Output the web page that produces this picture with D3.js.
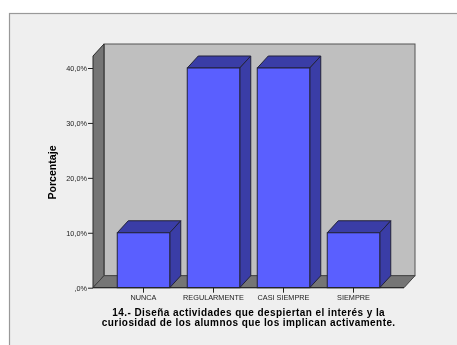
<!DOCTYPE html>
<html><head><meta charset="utf-8">
<script src="https://cdn.jsdelivr.net/npm/d3@7/dist/d3.min.js"></script>
<style>html,body{margin:0;padding:0;background:#fff}svg{display:block;filter:blur(.35px)}text{font-family:"Liberation Sans",Arial,sans-serif}</style>
</head><body><svg id="c" width="457" height="345"></svg>
<script>
const categories = ["NUNCA","REGULARMENTE","CASI SIEMPRE","SIEMPRE"];
const values = [10,40,40,10];
const yTicks = [0,10,20,30,40];
const yTickLabels = [",0%","10,0%","20,0%","30,0%","40,0%"];
const yTitle = "Porcentaje";
const titleLines = ["14.- Diseña actividades que despiertan el interés y la","curiosidad de los alumnos que los implican activamente."];

const svg = d3.select("#c");
const W=457,H=345, dx=11, dy=-12;
const x0=93, x1=404, yBase=287.7, yTop=56;
const y = d3.scaleLinear().domain([0,40]).range([yBase,68]);
const x = d3.scaleBand().domain(categories).range([108.5,388.5]).paddingInner(.25).paddingOuter(.125);
const line="#23233a";
const P=a=>a.map(p=>p.join(",")).join(" ");

// panel
svg.append("rect").attr("x",9.5).attr("y",13.5).attr("width",W).attr("height",H).attr("fill","#efefef").attr("stroke","#999").attr("stroke-width",1.2);
// back wall
svg.append("rect").attr("x",x0+dx).attr("y",yTop+dy).attr("width",x1-x0).attr("height",yBase-yTop)
  .attr("fill","#bfbfbf").attr("stroke","#555").attr("stroke-width",1);
// side wall
svg.append("polygon").attr("points",P([[x0,yTop],[x0+dx,yTop+dy],[x0+dx,yBase+dy],[x0,yBase]])).attr("fill","#757575").attr("stroke","#2a2a2a").attr("stroke-width",1);
// floor
svg.append("polygon").attr("points",P([[x0,yBase],[x0+dx,yBase+dy],[x1+dx,yBase+dy],[x1,yBase]])).attr("fill","#757575").attr("stroke","#444").attr("stroke-width",1);

// bars
const g = svg.selectAll("g.bar").data(categories.map((c,i)=>({c,v:values[i]}))).join("g").attr("class","bar");
g.append("polygon").attr("points",d=>{const a=x(d.c),b=a+x.bandwidth(),t=y(d.v);return P([[a,t],[a+dx,t+dy],[b+dx,t+dy],[b,t]])}).attr("fill","#3a3da6").attr("stroke",line);
g.append("polygon").attr("points",d=>{const b=x(d.c)+x.bandwidth(),t=y(d.v);return P([[b,t],[b+dx,t+dy],[b+dx,yBase+dy],[b,yBase]])}).attr("fill","#3a3da6").attr("stroke",line);
g.append("rect").attr("x",d=>x(d.c)).attr("y",d=>y(d.v)).attr("width",x.bandwidth()).attr("height",d=>yBase-y(d.v)).attr("fill","#5a5fff").attr("stroke",line);

// axes
const ax = svg.append("g").attr("transform",`translate(${x0},0)`).call(d3.axisLeft(y).tickValues(yTicks).tickFormat((d,i)=>yTickLabels[i]).tickSize(5).tickPadding(1));
const bx = svg.append("g").attr("transform",`translate(0,${yBase})`).call(d3.axisBottom(x).tickSize(5).tickPadding(2));
[ax,bx].forEach(a=>{a.select(".domain").remove();a.selectAll("line").attr("stroke","#222");a.selectAll("text").attr("font-size",7.3).attr("fill","#222").attr("font-family",'"Liberation Sans",Arial,sans-serif')});
svg.append("line").attr("x1",x0).attr("x2",x1).attr("y1",yBase).attr("y2",yBase).attr("stroke","#222");

svg.append("text").attr("transform","translate(56,172.5) rotate(-90)").attr("text-anchor","middle").attr("font-size",10.6).attr("font-weight","bold").attr("fill","#000").text(yTitle);
svg.append("g").selectAll("text").data(titleLines).join("text").attr("x",248.7).attr("y",(d,i)=>316+i*10.3).attr("text-anchor","middle").attr("font-size",10).attr("font-weight","bold").attr("letter-spacing",.42).attr("fill","#000").text(d=>d);
</script></body></html>
